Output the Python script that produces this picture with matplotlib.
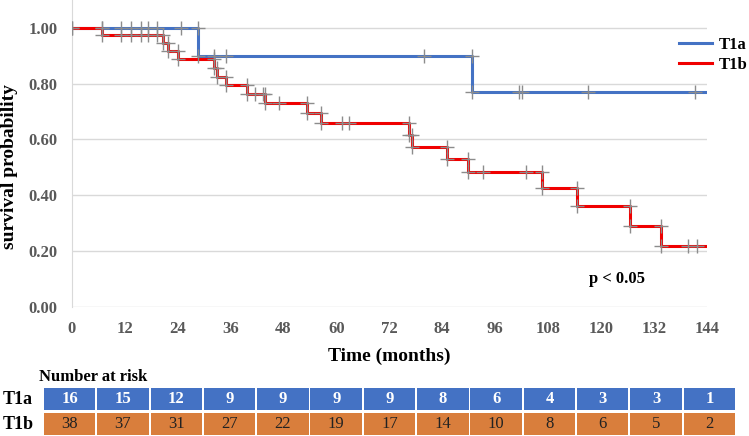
import numpy as np
import matplotlib.pyplot as plt

plt.rcParams['font.family'] = 'Liberation Serif'

# Kaplan-Meier steps (time of step, survival after step)
t1a_time = [0, 28.7, 90.7]
t1a_surv = [1.0, 0.900, 0.771]
t1a_cens = [6.8, 11.2, 13.4, 15.7, 17.2, 19.3, 24.8, 32.3, 35.1, 80.0,
            101.5, 102.2, 117.1, 141.3]

t1b_time = [0, 6.8, 20.8, 21.8, 24.0, 32.3, 33.0, 35.0, 39.7, 43.9, 53.4,
            56.6, 76.4, 77.2, 85.0, 89.9, 106.6, 114.6, 126.6, 133.6]
t1b_surv = [1.0, 0.973, 0.945, 0.917, 0.887, 0.856, 0.825, 0.794, 0.763,
            0.729, 0.695, 0.660, 0.616, 0.572, 0.529, 0.484, 0.424, 0.362,
            0.290, 0.218]
t1b_cens = [11.2, 13.4, 15.7, 17.2, 19.3, 41.6, 43.3, 47.0, 61.4, 62.9,
            93.2, 103.0, 139.8, 141.7]

t_end = 144

# number at risk table
risk_times = [0, 12, 24, 36, 48, 60, 72, 84, 96, 108, 120, 132, 144]
risk_t1a = [16, 15, 12, 9, 9, 9, 9, 8, 6, 4, 3, 3, 1]
risk_t1b = [38, 37, 31, 27, 22, 19, 17, 14, 10, 8, 6, 5, 2]

blue = '#4472C4'
red = '#F00000'
orange = '#D97E3C'
tick_grey = '#595959'
mark_grey = '#8C8C8C'

W, H = 749, 436
fig = plt.figure(figsize=(W / 100, H / 100), dpi=100)
ax = fig.add_axes([71.7 / W, (H - 306.7) / H, 635 / W, 306.7 / H])


def km_curve(ax, times, surv, cens, color, label):
    tt = list(times) + [t_end]
    ss = list(surv) + [surv[-1]]
    ax.step(tt, ss, where='post', color=color, lw=2.2, label=label, zorder=2)
    # markers at the step corners and censored times
    mx, my = [times[0]], [surv[0]]
    for i in range(1, len(times)):
        mx += [times[i], times[i]]
        my += [surv[i - 1], surv[i]]
    idx = np.searchsorted(times, cens, side='right') - 1
    mx += list(cens)
    my += list(np.array(surv)[idx])
    ax.plot(mx, my, ls='none', marker='+', ms=10, mew=1.0,
            color=mark_grey, zorder=3)


km_curve(ax, t1a_time, t1a_surv, t1a_cens, blue, 'T1a')
km_curve(ax, t1b_time, t1b_surv, t1b_cens, red, 'T1b')

ax.set_xlim(0, 144)
ax.set_ylim(0, 1.1)
ax.set_xticks(risk_times)
ax.set_yticks(np.arange(0, 1.01, 0.2))
ax.set_yticklabels(['%.2f' % v for v in np.arange(0, 1.01, 0.2)])
ax.grid(axis='y', color='#D9D9D9', lw=1)
ax.set_axisbelow(True)
for s in ['top', 'right', 'bottom']:
    ax.spines[s].set_visible(False)
ax.spines['left'].set_color('#D9D9D9')
ax.tick_params(length=0, labelsize=12, labelcolor=tick_grey)
ax.tick_params(axis='y', pad=10)
ax.tick_params(axis='x', pad=10)
for lab in ax.get_xticklabels() + ax.get_yticklabels():
    lab.set_fontweight('bold')

ax.set_xlabel('Time (months)', fontsize=14, fontweight='bold', labelpad=8)
fig.text(10 / W, 1 - 167 / H, 'survival probability', rotation=90,
         ha='center', va='center', fontsize=14, fontweight='bold')

ax.text(0.858, 0.09, 'p < 0.05', transform=ax.transAxes, ha='center',
        va='center', fontsize=12, fontweight='bold')

fig.legend(loc='upper left', bbox_to_anchor=(679 / W, 1 - 37 / H),
           frameon=False, borderpad=0, borderaxespad=0, handlelength=2.0,
           handletextpad=0.4, labelspacing=0.25,
           prop={'weight': 'bold', 'size': 12})

# number at risk table
tab = fig.add_axes([43 / W, (H - 435) / H, 693 / W, 47 / H])
n = len(risk_times)
xs = np.arange(n) + 0.5
tab.bar(xs, 0.936, bottom=1.064, width=0.965, color=blue)
tab.bar(xs, 0.936, bottom=0, width=0.965, color=orange)
for x, a, b in zip(xs, risk_t1a, risk_t1b):
    tab.text(x, 1.532, str(a), ha='center', va='center', color='white',
             fontsize=12, fontweight='bold')
    tab.text(x, 0.468, str(b), ha='center', va='center', color='#222222',
             fontsize=12)
tab.set_xlim(0, n)
tab.set_ylim(0, 2)
tab.axis('off')

fig.text(39 / W, 1 - 377 / H, 'Number at risk', ha='left', va='center',
         fontsize=12, fontweight='bold')
fig.text(3 / W, 1 - 399 / H, 'T1a', ha='left', va='center',
         fontsize=13, fontweight='bold')
fig.text(3 / W, 1 - 424 / H, 'T1b', ha='left', va='center',
         fontsize=13, fontweight='bold')

fig.savefig('out.png', dpi=100)
